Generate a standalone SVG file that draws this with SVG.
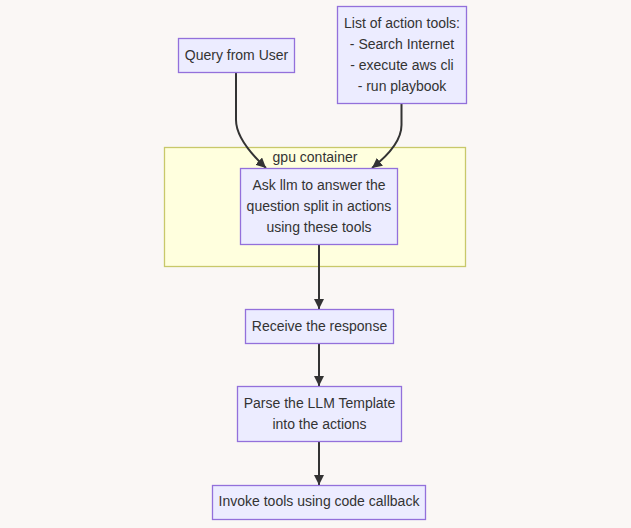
<svg xmlns="http://www.w3.org/2000/svg" width="631" height="528" viewBox="0 0 631 528">
<style>
.node rect{fill:#ECECFF;stroke:#9370DB;stroke-width:1.3}
.cluster rect{fill:#ffffde;stroke:#c8c86a;stroke-width:1.3}
text{font-family:"Liberation Sans",Arial,sans-serif;font-size:14px;fill:#333;text-anchor:middle;dominant-baseline:central}
.edges path{fill:none;stroke:#333;stroke-width:2}
</style>
<defs>
<marker id="arr" viewBox="0 0 10 10" refX="10" refY="5" markerWidth="10" markerHeight="10" markerUnits="userSpaceOnUse" orient="auto">
<path d="M0,0 L10,5 L0,10 z" fill="#333"/>
</marker>
</defs>
<rect width="631" height="528" fill="#faf7f5"/>
<g id="gpu-container" class="cluster">
<rect x="164.5" y="147.5" width="301" height="119"/>
<text x="315" y="157">gpu container</text>
</g>
<g class="edges">
<path d="M236,72 V120 Q236,140 266,168" marker-end="url(#arr)"/>
<path d="M401.5,103 V125 Q401.5,145 372,168" marker-end="url(#arr)"/>
<path d="M319,244 V309" marker-end="url(#arr)"/>
<path d="M319,343 V386" marker-end="url(#arr)"/>
<path d="M319,441 V485" marker-end="url(#arr)"/>
</g>
<g id="query" class="node">
<rect x="178.5" y="38.5" width="116" height="34"/>
<text x="236.5" y="55">Query from User</text>
</g>
<g id="tools" class="node">
<rect x="337.5" y="6.5" width="129" height="97"/>
<text x="402" y="23">List of action tools:</text>
<text x="402" y="44">- Search Internet</text>
<text x="402" y="65">- execute aws cli</text>
<text x="402" y="86">- run playbook</text>
</g>
<g id="ask" class="node">
<rect x="240.5" y="168.5" width="157" height="76"/>
<text x="319" y="185">Ask llm to answer the</text>
<text x="319" y="206">question split in actions</text>
<text x="319" y="227">using these tools</text>
</g>
<g id="receive" class="node">
<rect x="245.5" y="309.5" width="148" height="34"/>
<text x="319.5" y="326">Receive the response</text>
</g>
<g id="parse" class="node">
<rect x="237.5" y="386.5" width="164" height="55"/>
<text x="319.5" y="403">Parse the LLM Template</text>
<text x="319.5" y="424">into the actions</text>
</g>
<g id="invoke" class="node">
<rect x="212.5" y="485.5" width="213" height="34"/>
<text x="319" y="501">Invoke tools using code callback</text>
</g>
</svg>
